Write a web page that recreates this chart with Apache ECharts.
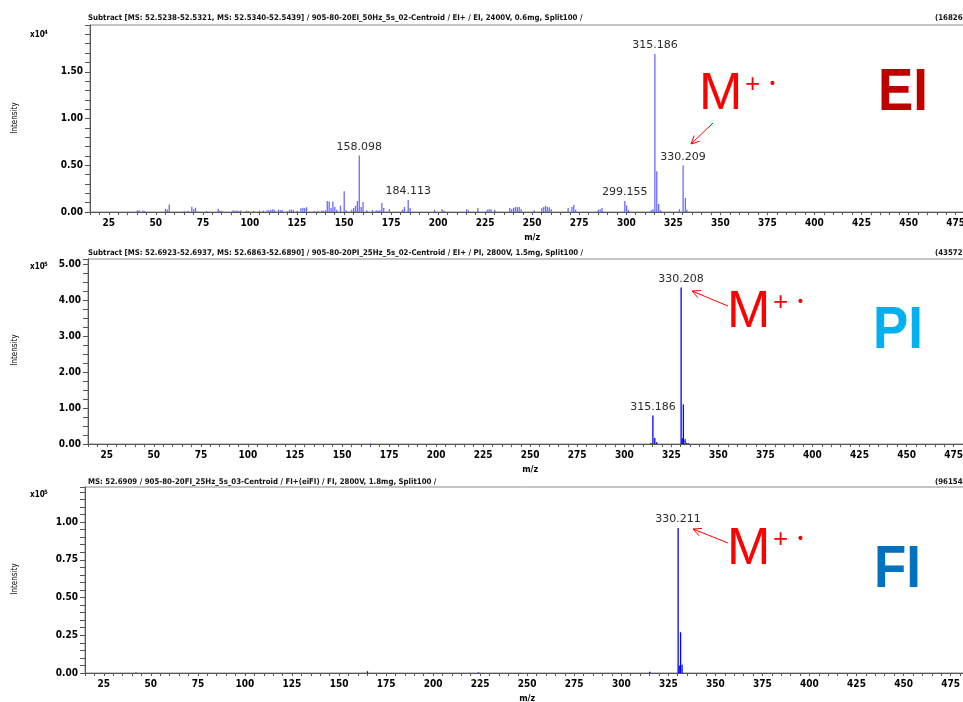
<!DOCTYPE html>
<html><head><meta charset="utf-8">
<script src="https://cdn.jsdelivr.net/npm/echarts@6/dist/echarts.min.js"></script>
<style>html,body{margin:0;padding:0;background:#fff}#c{width:963px;height:702px}</style>
</head><body><div id="c"></div>
<script>
// ---------- DATA ----------
// EI panel (intensity in units of 1e4)
const eiMz = [40.1,41.1,43.1,44.1,55.1,56.1,57.1,65.1,67.1,69.1,70.1,71.1,77.0,83.1,84.1,85.1,
  91.1,92.1,93.1,94.1,95.1,98.1,99.1,102.1,105.1,107.1,109.1,110.1,111.1,112.1,113.1,115.1,116.1,117.1,
  120.1,121.1,122.1,123.1,125.1,127.1,128.1,129.1,130.1,134.1,136.1,138.1,139.1,140.1,
  141.1,142.1,143.1,144.1,145.1,146.1,148.1,150.1,151.1,154.1,155.1,156.1,157.1,158.1,159.1,160.1,162.1,
  165.1,167.1,168.1,169.1,170.1,171.1,174.1,181.1,182.1,184.1,185.1,198.1,202.1,203.1,
  215.1,216.1,221.1,226.1,227.1,228.1,230.1,238.1,239.1,240.1,241.1,242.1,243.1,244.1,
  251.1,255.1,256.1,257.1,258.1,259.1,260.1,269.1,271.1,272.1,273.1,285.1,286.1,287.1,
  299.2,300.2,301.2,313.2,314.2,315.2,316.2,317.2,318.2,328.2,330.2,331.4,332.2];
const eiInt = [0.015,0.018,0.016,0.012,0.035,0.028,0.08,0.012,0.014,0.055,0.03,0.045,0.01,0.035,0.016,0.012,
  0.02,0.014,0.016,0.012,0.016,0.014,0.012,0.01,0.014,0.016,0.02,0.018,0.024,0.03,0.02,0.025,0.018,0.022,
  0.012,0.025,0.025,0.02,0.014,0.04,0.045,0.04,0.052,0.01,0.014,0.016,0.012,0.018,
  0.118,0.111,0.043,0.111,0.054,0.025,0.068,0.221,0.018,0.025,0.043,0.068,0.118,0.604,0.054,0.107,0.018,
  0.02,0.018,0.015,0.02,0.096,0.043,0.03,0.025,0.054,0.129,0.043,0.025,0.03,0.015,
  0.03,0.018,0.043,0.025,0.03,0.03,0.025,0.043,0.03,0.043,0.054,0.05,0.054,0.03,
  0.018,0.043,0.054,0.068,0.054,0.05,0.03,0.043,0.054,0.075,0.025,0.025,0.03,0.043,
  0.118,0.07,0.02,0.018,0.03,1.69,0.436,0.086,0.018,0.03,0.50,0.15,0.025];
const eiLabelMz = [158.1,184.1,299.2,315.2,330.2];
const eiLabelText = ['158.098','184.113','299.155','315.186','330.209'];

// PI panel (intensity in units of 1e5)
const piMz = [165.1,314.2,315.2,316.2,317.2,330.2,330.8,331.4,332.3,333.2,334.1];
const piInt = [0.01,0.03,0.79,0.17,0.05,4.35,0.16,1.10,0.13,0.03,0.02];
const piLabelMz = [315.2,330.2];
const piLabelText = ['315.186','330.208'];

// FI panel (intensity in units of 1e5)
const fiMz = [42.1,165.1,224.1,315.2,330.2,330.8,331.5,332.3];
const fiInt = [0.004,0.012,0.004,0.008,0.96,0.05,0.27,0.055];
const fiLabelMz = [330.2];
const fiLabelText = ['330.211'];

// axis settings
const xMin = 15, xMax = 485, xStep = 5, xLabelStep = 25;
const yMaxes = [2.0, 5.14, 1.232];
const yStep = [0.1, 0.25, 0.05];
const yLabelStep = [0.5, 1.0, 0.25];

// ---------- BUILD ----------
const chart = echarts.init(document.getElementById('c'), null, {renderer:'canvas'});
const axFont = '"Liberation Sans Narrow","DejaVu Sans Condensed",sans-serif';
const hdrFont = 'bold 7.8px "Liberation Sans Narrow","DejaVu Sans Condensed",sans-serif';

function buildData(mz, it, lmz, ltxt) {
  return mz.map((m, i) => {
    const item = {value: [m, it[i]]};
    const k = lmz.indexOf(m);
    if (k >= 0) item.label = {show: true, formatter: ltxt[k]};
    return item;
  });
}
const isMult = (v, s) => Math.abs(v / s - Math.round(v / s)) < 1e-6;

const plotW = 884.4;
const grids = [
  {left: 90, top: 25, width: plotW, height: 187},
  {left: 88, top: 259, width: plotW, height: 185},
  {left: 85, top: 487, width: plotW, height: 186}
].map(g => Object.assign(g, {show: true, borderColor: '#8a8a8a', borderWidth: 1, backgroundColor: 'transparent',
  containLabel: false, outerBoundsMode: 'none'}));

const xAxes = [0,1,2].map(i => ({
  type: 'value', gridIndex: i, min: xMin, max: xMax, interval: xStep,
  name: 'm/z', nameLocation: 'middle', nameGap: 21,
  nameTextStyle: {fontFamily: axFont, fontSize: 9, fontWeight: 'bold', color: '#000'},
  axisLine: {lineStyle: {color: '#555', width: 1}},
  axisTick: {length: 3, lineStyle: {color: '#555'}},
  axisLabel: {margin: 6, fontFamily: axFont, fontSize: 10, fontWeight: 'bold', color: '#000',
    formatter: v => (isMult(v, xLabelStep) && v < 480) ? String(Math.round(v)) : ''},
  splitLine: {show: false}
}));
const yAxes = [0,1,2].map(i => ({
  type: 'value', gridIndex: i, min: 0, max: yMaxes[i], interval: yStep[i],
  axisLine: {show: true, lineStyle: {color: '#555', width: 1}},
  axisTick: {show: true, length: 5, lineStyle: {color: '#555'}},
  axisLabel: {margin: 7, fontFamily: axFont, fontSize: 10, fontWeight: 'bold', color: '#000',
    formatter: v => (isMult(v, yLabelStep[i]) && v < yMaxes[i] - 1e-6 && !(i === 0 && v > 1.99)) ? v.toFixed(2) : ''},
  splitLine: {show: false}
}));

const lblStyle = {position: 'top', distance: 3, fontFamily: '"DejaVu Sans",sans-serif', fontSize: 11, color: '#2a2a2a'};
const series = [
  {type: 'bar', xAxisIndex: 0, yAxisIndex: 0, barWidth: 1.3, itemStyle: {color: '#6a6aff'},
   label: Object.assign({show: false}, lblStyle), data: buildData(eiMz, eiInt, eiLabelMz, eiLabelText), animation: false},
  {type: 'bar', xAxisIndex: 1, yAxisIndex: 1, barWidth: 1.3, itemStyle: {color: '#0000ff'},
   label: Object.assign({show: false}, lblStyle), data: buildData(piMz, piInt, piLabelMz, piLabelText), animation: false},
  {type: 'bar', xAxisIndex: 2, yAxisIndex: 2, barWidth: 1.3, itemStyle: {color: '#0000ff'},
   label: Object.assign({show: false}, lblStyle), data: buildData(fiMz, fiInt, fiLabelMz, fiLabelText), animation: false}
];

// ---------- ANNOTATIONS ----------
function txt(x, y, text, font, fill, align, valign, rot, sx) {
  return {type: 'text', x: x, y: y, rotation: rot || 0, scaleX: sx || 1, silent: true,
    style: {text: text, font: font, fill: fill || '#000', textAlign: align || 'left', textVerticalAlign: valign || 'middle'}};
}
function arrow(x1, y1, x2, y2) {
  const a = Math.atan2(y2 - y1, x2 - x1), L = 9, h = 0.45;
  const p1 = [x2 - L * Math.cos(a - h), y2 - L * Math.sin(a - h)];
  const p2 = [x2 - L * Math.cos(a + h), y2 - L * Math.sin(a + h)];
  const st = {stroke: '#ff0000', lineWidth: 1};
  return [
    {type: 'line', silent: true, shape: {x1: x1, y1: y1, x2: x2, y2: y2}, style: st},
    {type: 'polyline', silent: true, shape: {points: [p1, [x2, y2], p2]}, style: Object.assign({fill: null}, st)}
  ];
}
const sub = (x, y, exp) => [
  txt(x, y, 'x10', 'bold 8px ' + axFont, '#000'),
  txt(x + 14, y - 3, exp, 'bold 6px ' + axFont, '#000')
];
const mLabel = (x, y) => [
  txt(x, y, 'M', '52px "Liberation Sans",Arial,sans-serif', '#ff0000'),
  txt(x + 46, y - 10, '+', '26px "Liberation Sans",Arial,sans-serif', '#ff0000'),
  txt(x + 71, y - 11, '\u2022', 'bold 14px "Liberation Sans",Arial,sans-serif', '#ff0000')
];
const bigFont = 'bold 60px "Liberation Sans",Arial,sans-serif';
const graphics = [].concat(
  [txt(88, 18, 'Subtract [MS: 52.5238-52.5321, MS: 52.5340-52.5439] / 905-80-20EI_50Hz_5s_02-Centroid / EI+ / EI, 2400V, 0.6mg, Split100 /', hdrFont, '#111'),
   txt(935, 18, '(168264)', hdrFont, '#111'),
   txt(88, 253, 'Subtract [MS: 52.6923-52.6937, MS: 52.6863-52.6890] / 905-80-20PI_25Hz_5s_02-Centroid / EI+ / PI, 2800V, 1.5mg, Split100 /', hdrFont, '#111'),
   txt(935, 253, '(435723)', hdrFont, '#111'),
   txt(88, 482, 'MS: 52.6909 / 905-80-20FI_25Hz_5s_03-Centroid / FI+(eiFI) / FI, 2800V, 1.8mg, Split100 /', hdrFont, '#111'),
   txt(935, 482, '(961540)', hdrFont, '#111'),
   txt(15, 118, 'Intensity', '8px ' + axFont, '#000', 'center', 'middle', Math.PI / 2),
   txt(15, 350, 'Intensity', '8px ' + axFont, '#000', 'center', 'middle', Math.PI / 2),
   txt(15, 579, 'Intensity', '8px ' + axFont, '#000', 'center', 'middle', Math.PI / 2),
   txt(878, 93, 'EI', bigFont, '#c00000', 'left', 'middle', 0, 0.88),
   txt(873, 331, 'PI', bigFont, '#00b0f0', 'left', 'middle', 0, 0.88),
   txt(874, 570, 'FI', bigFont, '#0070c0', 'left', 'middle', 0, 0.88)
  ],
  sub(30, 35, '4'), sub(30, 267, '5'), sub(30, 495, '5'),
  mLabel(699, 95), mLabel(727, 313), mLabel(727, 550),
  arrow(713, 123, 691, 144), arrow(728, 306, 692, 291), arrow(728, 543, 693, 529)
);

chart.setOption({
  animation: false,
  backgroundColor: '#ffffff',
  grid: grids, xAxis: xAxes, yAxis: yAxes, series: series,
  graphic: graphics
});
</script></body></html>
